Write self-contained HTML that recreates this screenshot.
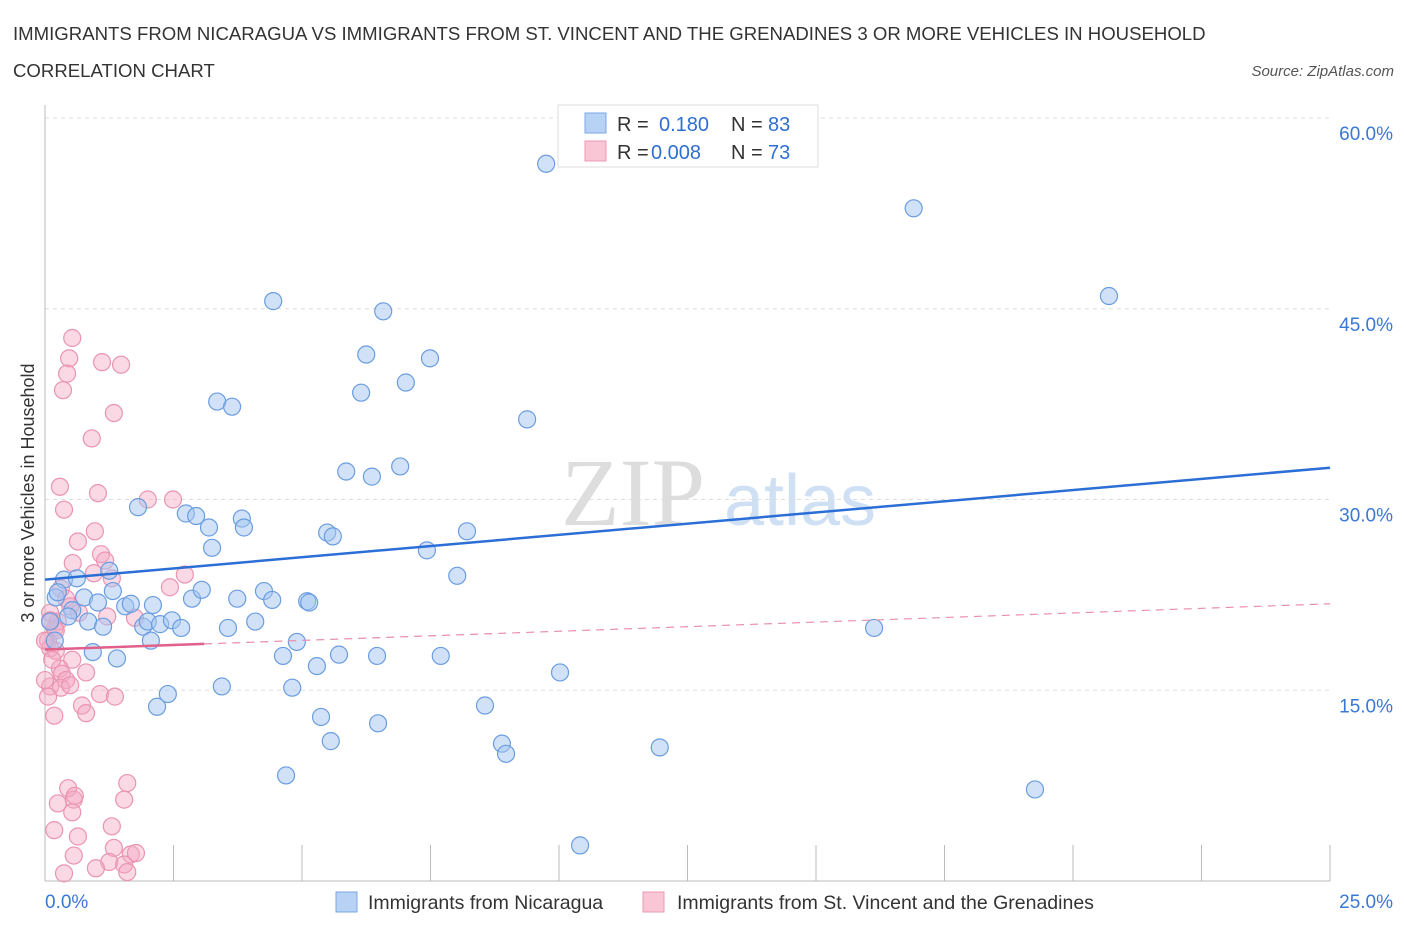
<!DOCTYPE html>
<html><head><meta charset="utf-8"><style>
body{margin:0;background:#fff;font-family:"Liberation Sans",sans-serif;}
svg{display:block}
</style></head><body>
<svg id="chart" width="1406" height="930" xmlns="http://www.w3.org/2000/svg" font-family="Liberation Sans, sans-serif">
<text x="13" y="40" font-size="18.6" fill="#333">IMMIGRANTS FROM NICARAGUA VS IMMIGRANTS FROM ST. VINCENT AND THE GRENADINES 3 OR MORE VEHICLES IN HOUSEHOLD</text>
<text x="13" y="77" font-size="18.6" fill="#333">CORRELATION CHART</text>
<text x="1394" y="76" font-size="15" fill="#555" font-style="italic" text-anchor="end">Source: ZipAtlas.com</text>
<g>
<text x="633" y="525" font-size="96" fill="#ddd" font-family="Liberation Serif, serif" text-anchor="middle">ZIP</text>
<text x="800" y="525" font-size="72" fill="#cfe0f5" text-anchor="middle">atlas</text>
</g>
<g id="grid"></g>
<g id="axes"></g>
<g id="pts"></g>
<g id="trend"></g>
<g>
<rect x="558" y="105" width="260" height="62" fill="#fff" stroke="#ddd"/>
<rect x="585" y="113" width="21" height="20" fill="#b8d2f5" stroke="#7aa7e5"/>
<rect x="585" y="141" width="21" height="20" fill="#f8c6d5" stroke="#ee9ab5"/>
<text x="617" y="131" font-size="20" fill="#333">R =</text>
<text x="659" y="131" font-size="20" fill="#2f6fd0">0.180</text>
<text x="731" y="131" font-size="20" fill="#333">N =</text>
<text x="768" y="131" font-size="20" fill="#2f6fd0">83</text>
<text x="617" y="159" font-size="20" fill="#333">R =</text>
<text x="651" y="159" font-size="20" fill="#2f6fd0">0.008</text>
<text x="731" y="159" font-size="20" fill="#333">N =</text>
<text x="768" y="159" font-size="20" fill="#2f6fd0">73</text>
</g>
<g>
<rect x="336" y="892" width="21" height="20" fill="#b8d2f5" stroke="#7aa7e5"/>
<text x="368" y="909" font-size="19.5" fill="#333">Immigrants from Nicaragua</text>
<rect x="643" y="892" width="21" height="20" fill="#f8c6d5" stroke="#ee9ab5"/>
<text x="677" y="909" font-size="19.5" fill="#333">Immigrants from St. Vincent and the Grenadines</text>
</g>
<text transform="translate(34,493) rotate(-90)" font-size="18" fill="#333" text-anchor="middle">3 or more Vehicles in Household</text>
</svg>
<script>
const blueX=[9.75,16.9,20.7,4.44,6.58,6.25,7.49,6.15,7.02,3.35,3.64,9.38,5.86,6.36,6.91,1.81,2.74,2.94,3.19,3.83,3.87,5.49,5.60,8.21,3.25,7.43,8.02,0.37,0.62,1.25,1.32,0.21,0.76,1.03,1.56,1.67,2.10,2.86,3.05,3.74,4.26,4.42,5.10,5.14,0.53,0.45,0.84,1.13,1.91,2.00,2.24,2.47,2.65,3.56,4.09,2.06,4.90,0.93,1.40,4.63,5.29,5.72,6.46,7.70,10.02,16.13,2.39,2.18,3.44,4.81,5.37,6.48,8.56,5.56,8.89,8.97,11.96,4.69,19.26,10.41,0.19,0.10,0.25];
const blueY=[56.4,52.9,46.0,45.6,44.8,41.4,41.1,38.4,39.2,37.7,37.3,36.3,32.2,31.8,32.6,29.4,28.9,28.7,27.8,28.5,27.8,27.4,27.1,27.5,26.2,26.0,24.0,23.7,23.8,24.4,22.8,22.3,22.3,21.9,21.6,21.8,21.7,22.2,22.9,22.2,22.8,22.1,22.0,21.9,21.3,20.8,20.4,20.0,20.0,20.4,20.2,20.5,19.9,19.9,20.4,18.9,18.8,18.0,17.5,17.7,16.9,17.8,17.7,17.7,16.4,19.9,14.7,13.7,15.3,15.2,12.9,12.4,13.8,11.0,10.8,10.0,10.5,8.3,7.2,2.8,18.9,20.4,22.7];
const pinkX=[0.53,0.47,0.43,0.35,1.11,1.48,1.34,0.91,0.29,1.03,0.37,2.49,0.64,0.97,1.09,1.17,0.54,0.95,1.30,2.72,2.43,0.31,0.41,0.49,0.66,1.21,1.75,0.10,0.19,0.25,0.06,0.10,0.21,0.53,0.29,0.80,0.33,0.41,0.10,0.31,0.49,1.07,1.36,0.06,0.18,0.72,0.80,0.45,1.60,0.25,0.56,0.53,0.58,1.54,1.30,0.18,0.64,1.34,0.56,1.67,1.25,1.54,1.60,0.37,0.99,1.77,2.00,0.21,0.0,0.14,0.0,0.10];
const pinkY=[42.7,41.1,39.9,38.6,40.8,40.6,36.8,34.8,31.0,30.5,29.2,30.0,26.7,27.5,25.7,25.2,25.0,24.2,23.8,24.1,23.1,23.0,22.2,21.6,21.1,20.8,20.7,21.1,19.9,20.4,18.9,18.3,18.1,17.4,16.7,16.4,16.3,15.8,15.3,15.2,15.4,14.7,14.5,14.5,13.0,13.8,13.2,7.3,7.7,6.1,6.4,5.4,6.7,6.4,4.3,4.0,3.5,2.6,2.0,2.1,1.5,1.3,0.7,0.6,1.0,2.2,30.0,19.7,18.9,17.4,15.8,20.5];
const yTicks=[15,30,45,60];
const yTickLabels=["15.0%","30.0%","45.0%","60.0%"];
const xTicks=[0,2.5,5,7.5,10,12.5,15,17.5,20,22.5,25];
const blueTrend=[23.7,32.5];
const pinkTrend=[18.2,21.8];
const pinkSolidEnd=3.1;

const NS="http://www.w3.org/2000/svg";
const X0=45,X1=1330,Y0=881,Y1=118;
const sx=v=>X0+v/25*(X1-X0);
const sy=v=>Y0-v/60*(Y0-Y1);
function mk(t,a,p){const e=document.createElementNS(NS,t);for(const k in a)e.setAttribute(k,a[k]);p.appendChild(e);return e;}
const grid=document.getElementById('grid'),axes=document.getElementById('axes');
yTicks.forEach((t,i)=>{
  const l=mk('line',{x1:X0,x2:1330,y1:sy(t),y2:sy(t),stroke:'#ddd','stroke-dasharray':'4,4'},grid);
  
  
  const tx=mk('text',{x:1393,y:sy(t)+22,'font-size':19,fill:'#3a78d4','text-anchor':'end'},axes);
  tx.textContent=yTickLabels[i];
  
  
});
const ax=mk('line',{x1:X0,x2:X0,y1:105,y2:Y0,stroke:'#bbb'},axes);


const bx=mk('line',{x1:X0,x2:X1,y1:Y0,y2:Y0,stroke:'#bbb'},axes);


xTicks.forEach(t=>{
  const l=mk('line',{x1:sx(t),x2:sx(t),y1:845,y2:Y0,stroke:'#bbb'},axes);
  
  
});
const xl0=mk('text',{x:45,y:908,'font-size':19,fill:'#3a78d4'},axes);xl0.textContent='0.0%';


const xl1=mk('text',{x:1393,y:908,'font-size':19,fill:'#3a78d4','text-anchor':'end'},axes);xl1.textContent='25.0%';


const pts=document.getElementById('pts');
pinkX.forEach((x,i)=>{
  const c=mk('circle',{cx:sx(x),cy:sy(pinkY[i]),r:8.5,fill:'rgba(244,168,195,0.45)',stroke:'#ea94b0','stroke-width':1.2},pts);
  
  
});
blueX.forEach((x,i)=>{
  const c=mk('circle',{cx:sx(x),cy:sy(blueY[i]),r:8.5,fill:'rgba(164,198,242,0.5)',stroke:'#6a9de0','stroke-width':1.2},pts);
  
  
});
const tr=document.getElementById('trend');
const bl=mk('line',{x1:sx(0),y1:sy(blueTrend[0]),x2:sx(25),y2:sy(blueTrend[1]),stroke:'#2b6fd6','stroke-width':2.5},tr);


const pm=pinkTrend[0]+(pinkTrend[1]-pinkTrend[0])*pinkSolidEnd/25;
const pd=mk('line',{x1:sx(pinkSolidEnd),y1:sy(pm),x2:sx(25),y2:sy(pinkTrend[1]),stroke:'#e890ab','stroke-width':1.2,'stroke-dasharray':'8,6'},tr);


const ps=mk('line',{x1:sx(0),y1:sy(pinkTrend[0]),x2:sx(pinkSolidEnd),y2:sy(pm),stroke:'#e0608a','stroke-width':2.5},tr);


</script>
</body></html>
